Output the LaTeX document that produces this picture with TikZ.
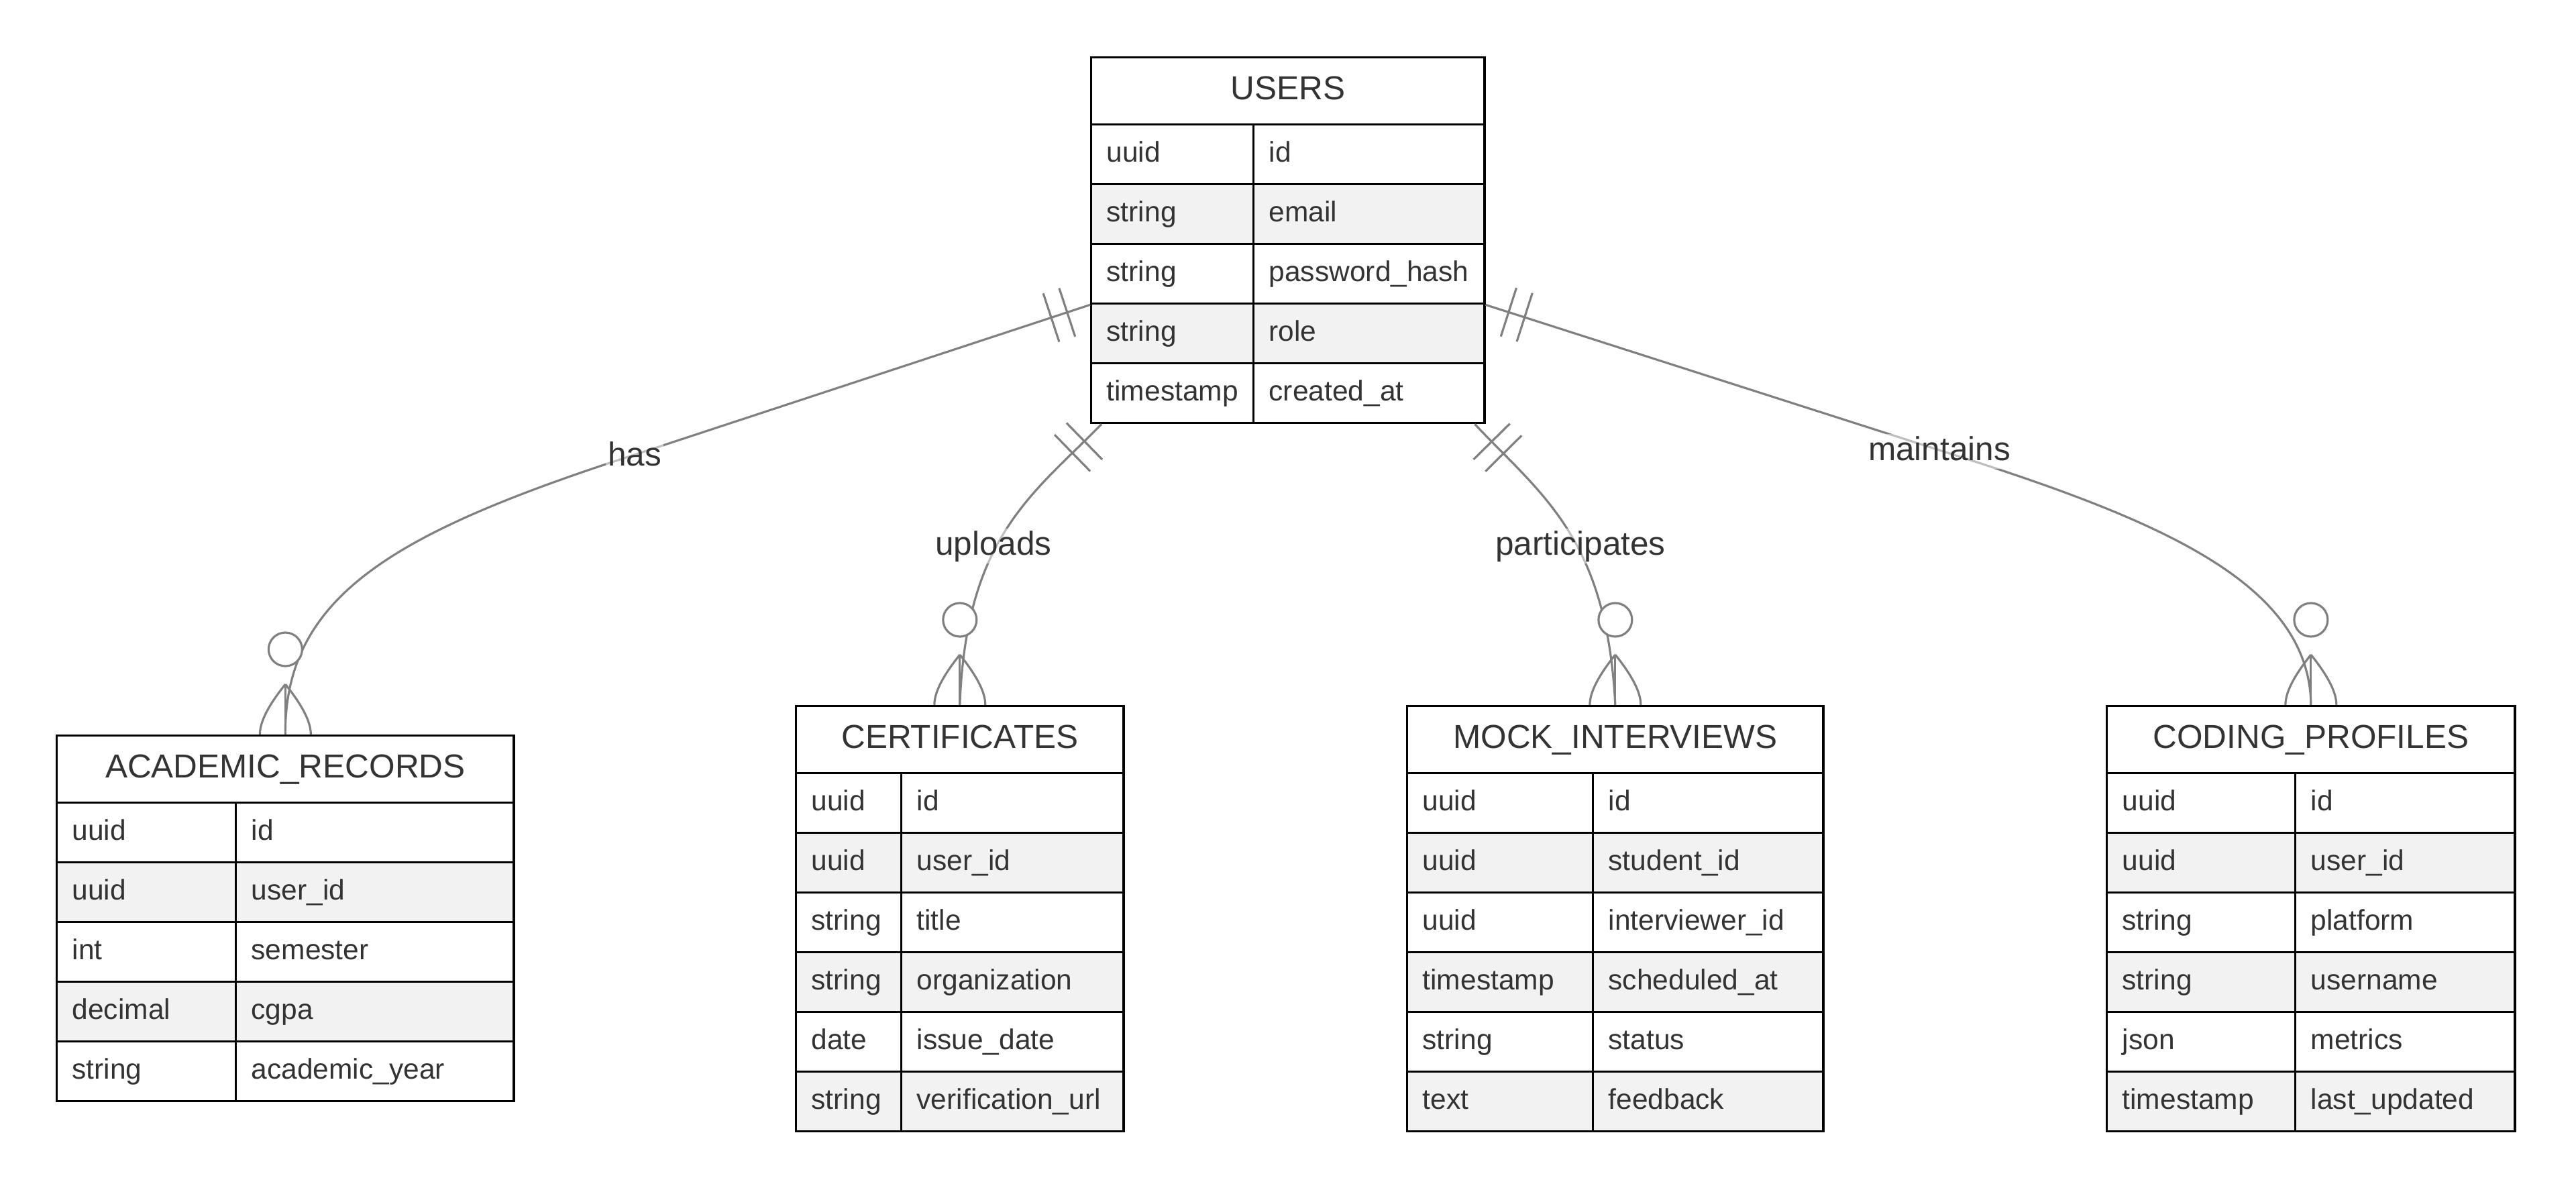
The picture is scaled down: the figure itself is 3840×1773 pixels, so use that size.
\documentclass[tikz,border=0pt]{standalone}
\usepackage{fontspec}
\setmainfont{Liberation Sans}
\usetikzlibrary{decorations.markings}
\definecolor{txt}{HTML}{333333}
\definecolor{rowgray}{HTML}{F2F2F2}
\definecolor{linkgray}{HTML}{808080}
\tikzset{
  cell/.style={draw=black, line width=0.95pt, anchor=north west, inner xsep=0.23cm, inner ysep=0pt,
    minimum height=0.89cm, text=txt, font=\fontsize{12.09}{14}\selectfont,
    text height=0.31cm, text depth=0.09cm, align=left},
  head/.style={draw=black, line width=0.95pt, anchor=north west, inner sep=0pt, fill=white,
    minimum height=1cm, text=txt, font=\fontsize{14.08}{17}\selectfont,
    text height=0.36cm, text depth=0.1cm},
  link/.style={draw=linkgray, line width=0.9pt},
  rel/.style={text=txt, font=\fontsize{14.08}{17}\selectfont, fill=white, fill opacity=0.5,
    text opacity=1, inner sep=0.03cm, text height=0.36cm, text depth=0.1cm},
  onlyone/.style={postaction={decorate}, decoration={markings,
    mark=at position 0.36cm with {\draw[link] (0,-0.38cm) -- (0,0.38cm);},
    mark=at position 0.61cm with {\draw[link] (0,-0.38cm) -- (0,0.38cm);}}},
  zeromany/.pic={
    \draw[link] (0,-75) -- (0,0);
    \draw[link] (0,-75) .. controls (-24,-45) and (-38,-20) .. (-38,0);
    \draw[link] (0,-75) .. controls (24,-45) and (38,-20) .. (38,0);
    \draw[link, fill=white] (0,-127) circle [radius=25];
  }
}
\begin{document}
\begin{tikzpicture}[x=0.01cm, y=-0.01cm]
  \path[use as bounding box, fill=white] (0,0) rectangle (3840,1773);

  \node[head, minimum width=5.86cm] (uh) at (1625,84) {USERS};
  \foreach \t/\n/\f [count=\i] in {uuid/id/white, string/email/rowgray, string/password\_hash/white,
      string/role/rowgray, timestamp/created\_at/white} {
    \node[cell, fill=\f, text width=1.96cm] (u-\i-t) at (1625,{184+89*(\i-1)}) {\t};
    \node[cell, fill=\f, text width=2.98cm] (u-\i-n) at (1867,{184+89*(\i-1)}) {\n};
  }

  \node[head, minimum width=6.81cm] (ah) at (83,1095) {ACADEMIC\_RECORDS};
  \foreach \t/\n/\f [count=\i] in {uuid/id/white, uuid/user\_id/rowgray, int/semester/white,
      decimal/cgpa/rowgray, string/academic\_year/white} {
    \node[cell, fill=\f, text width=2.21cm] (a-\i-t) at (83,{1195+89*(\i-1)}) {\t};
    \node[cell, fill=\f, text width=3.68cm] (a-\i-n) at (350,{1195+89*(\i-1)}) {\n};
  }

  \node[head, minimum width=4.88cm] (ch) at (1185,1051) {CERTIFICATES};
  \foreach \t/\n/\f [count=\i] in {uuid/id/white, uuid/user\_id/rowgray, string/title/white,
      string/organization/rowgray, date/issue\_date/white, string/verification\_url/rowgray} {
    \node[cell, fill=\f, text width=1.11cm] (c-\i-t) at (1185,{1151+89*(\i-1)}) {\t};
    \node[cell, fill=\f, text width=2.85cm] (c-\i-n) at (1342,{1151+89*(\i-1)}) {\n};
  }

  \node[head, minimum width=6.2cm] (mh) at (2096,1051) {MOCK\_INTERVIEWS};
  \foreach \t/\n/\f [count=\i] in {uuid/id/white, uuid/student\_id/rowgray, uuid/interviewer\_id/white,
      timestamp/scheduled\_at/rowgray, string/status/white, text/feedback/rowgray} {
    \node[cell, fill=\f, text width=2.31cm] (m-\i-t) at (2096,{1151+89*(\i-1)}) {\t};
    \node[cell, fill=\f, text width=2.97cm] (m-\i-n) at (2373,{1151+89*(\i-1)}) {\n};
  }

  \node[head, minimum width=6.08cm] (ph) at (3139,1051) {CODING\_PROFILES};
  \foreach \t/\n/\f [count=\i] in {uuid/id/white, uuid/user\_id/rowgray, string/platform/white,
      string/username/rowgray, json/metrics/white, timestamp/last\_updated/rowgray} {
    \node[cell, fill=\f, text width=2.35cm] (p-\i-t) at (3139,{1151+89*(\i-1)}) {\t};
    \node[cell, fill=\f, text width=2.81cm] (p-\i-n) at (3420,{1151+89*(\i-1)}) {\n};
  }

  \draw[link, onlyone] (u-3-t.south west) -- (900,693) .. controls (578,801) and (424,895) .. (ah.north);
  \draw[link, onlyone] ([xshift=0.17cm]u-5-t.south west) .. controls (1538,738) and (1440,801) .. (ch.north);
  \draw[link, onlyone] ([xshift=-0.16cm]u-5-n.south east) .. controls (2298,738) and (2395,801) .. (mh.north);
  \draw[link, onlyone] (u-3-n.south east) -- (2950,690) .. controls (3235,783) and (3443,876) .. (ph.north);

  \pic at (ah.north) {zeromany};
  \pic at (ch.north) {zeromany};
  \pic at (mh.north) {zeromany};
  \pic at (ph.north) {zeromany};

  \node[rel] (has) at (946,681) {has};
  \node[rel] (uploads) at (1481,814) {uploads};
  \node[rel] (participates) at (2356,814) {participates};
  \node[rel] (maintains) at (2891,673) {maintains};
\end{tikzpicture}
\end{document}
